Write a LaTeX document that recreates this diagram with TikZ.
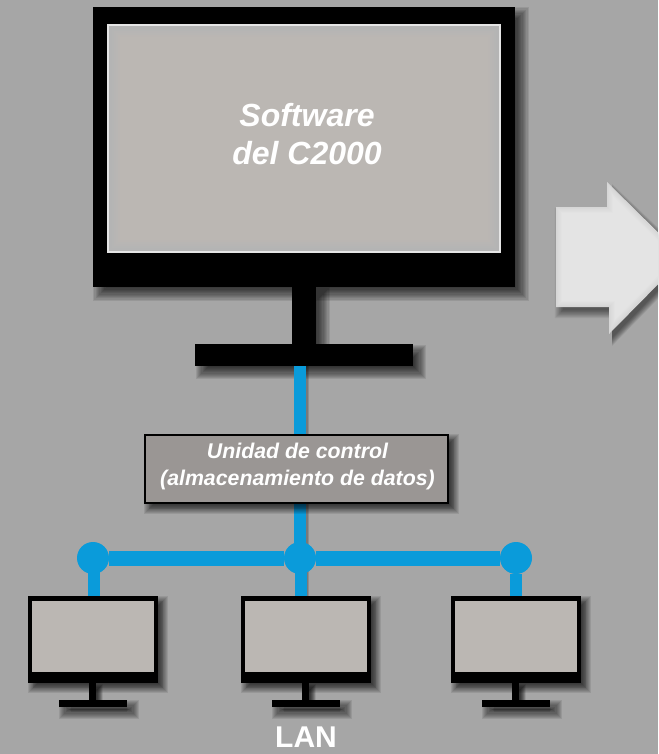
\documentclass[tikz,border=0pt]{standalone}
\usepackage{fontspec}
\setmainfont{Liberation Sans}
\definecolor{bg}{HTML}{A6A6A6}
\definecolor{rim}{HTML}{B4B4B4}
\definecolor{scr}{HTML}{BBB7B3}
\definecolor{ctl}{HTML}{9A9694}
\definecolor{lan}{HTML}{0A9BDA}
\definecolor{arrowface}{HTML}{D6D6D6}
\definecolor{arrowedge}{HTML}{E4E4E4}
% soft shadow: x1,y1,x2,y2 of the casting box, offset, blur
\newcommand{\softshade}[6]{%
  \foreach \k in {0,1,...,11}{%
    \pgfmathsetmacro{\gr}{#6*(1-\k/5.5)}%
    \fill[black,opacity=0.085] ({#1+#5-\gr},{#2+#5-\gr}) rectangle ({#3+#5+\gr},{#4+#5+\gr});
  }}
\tikzset{
  x=1pt,y=-1pt,
  blk/.style={fill=black,draw=none,inner sep=0,outer sep=0,anchor=north west},
  bigscreen/.style={fill=rim,draw=white!90!black,line width=1.2pt,inner sep=0,outer sep=0,anchor=north west},
  smallscreen/.style={fill=scr,draw=none,inner sep=0,outer sep=0,anchor=north west},
  ctlbox/.style={fill=ctl,draw=black,line width=2pt,inner sep=0,outer sep=0,anchor=north west,
    minimum width=303pt,minimum height=68pt},
  lanwire/.style={draw=lan,line width=12pt},
  wireshade/.style={draw=black,opacity=0.14,line width=1.5pt},
  landot/.style={circle,fill=lan,draw=none,minimum size=32pt,inner sep=0,outer sep=0},
  lbl/.style={text=white,font=\bfseries\itshape,align=center,inner sep=0},
}
\newcommand{\pc}[2]{% name, left x
  \pgfmathsetmacro{\xa}{#2}\pgfmathsetmacro{\xb}{#2+130}
  \softshade{\xa}{596}{\xb}{683}{5}{5}
  \softshade{#2+61}{683}{#2+68}{700}{4}{3}
  \softshade{#2+31}{700}{#2+99}{707}{6}{6}
  \node[blk,minimum width=130pt,minimum height=87pt] (#1) at (#2,596) {};
  \node[smallscreen,minimum width=122pt,minimum height=71pt] (#1scr) at (#2+4,601) {};
  \node[blk,minimum width=7pt,minimum height=18pt] (#1neck) at (#2+61,683) {};
  \node[blk,minimum width=68pt,minimum height=7pt] (#1base) at (#2+31,700) {};
}
\begin{document}
\begin{tikzpicture}
\useasboundingbox (0,0) rectangle (658,754);
\fill[bg] (0,0) rectangle (658,754);
% arrow
\begin{scope}
\clip (0,0) rectangle (658,754);
\foreach \d in {0,1,...,9}{
  \pgfmathsetmacro{\g}{\d*0.9-4}
  \fill[black,opacity=0.06] ({556+3-\g},{207+5-\g}) -- (612,{207+5-\g}) -- (612,{188-\g}) -- ({690+\g},262) -- ({612},{342+\g}) -- (612,{307+7+\g}) -- ({556+3-\g},{307+7+\g}) -- cycle;
}
\foreach \i in {0,1,...,6}{
  \pgfmathsetmacro{\m}{100-\i*100/6}
  \fill[arrowface!\m!arrowedge] ({556+\i},{207+\i}) -- ({607+\i},{207+\i}) -- ({607+\i},{182+2.4*\i}) -- ({684-1.4*\i},258) -- ({609+\i},{334-2.4*\i}) -- ({609+\i},{307-\i}) -- ({556+\i},{307-\i}) -- cycle;
}
\end{scope}
% big monitor shadows
\softshade{93}{7}{515}{287}{7}{7}
\softshade{292}{287}{316}{344}{7}{7}
\softshade{195}{344}{413}{366}{7}{6}
% big monitor
\node[blk,minimum width=422pt,minimum height=280pt] (mon) at (93,7) {};
\node[bigscreen,minimum width=392pt,minimum height=227pt] (monscr) at (108,25) {};
\foreach \i in {0,1,...,5}{
  \pgfmathsetmacro{\m}{\i*20}
  \fill[scr!\m!rim] ({110+\i*2},{27+\i*2}) rectangle ({498-\i*2},{250-\i*2});
}
\node[blk,minimum width=24pt,minimum height=57pt] (monneck) at (292,287) {};
\node[blk,minimum width=218pt,minimum height=22pt] (monbase) at (195,344) {};
\node[lbl,font=\bfseries\itshape\fontsize{32}{38}\selectfont] (soft) at (307,134) {Software\\del C2000};
% wires
\draw[wireshade] (306.8,366) -- (306.8,434);
\draw[wireshade,line width=3pt] (307.5,366) -- (307.5,434);
\draw[wireshade,line width=3pt] (307.5,504) -- (307.5,596);
\draw[wireshade] (306.8,504) -- (306.8,596);
\draw[lanwire] (300,366) -- (300,434);
\draw[lanwire] (300,504) -- (300,558);
\node[landot] (dotL) at (93,558) {};
\node[landot] (dotM) at (300,558) {};
\node[landot] (dotR) at (516,558) {};
\draw[draw=lan,line width=15pt] (dotL) -- (dotM);
\draw[draw=lan,line width=15pt] (dotM) -- (dotR);
% control box
\softshade{144}{434}{449}{504}{5}{5}
\node[ctlbox] (ctl) at (145,435) {};
\node[lbl,font=\bfseries\itshape\fontsize{21.3}{27}\selectfont] (ctltxt) at (297.5,466) {Unidad de control\\(almacenamiento de datos)};
% small monitors
\pc{pcA}{28}
\pc{pcB}{241}
\pc{pcC}{451}
\draw[lanwire] ([xshift=1pt]dotL.center) -- (pcA.north -| 94,0);
\draw[lanwire] (301,558) -- (pcB.north -| 301,0);
\draw[lanwire] (dotR) -- (pcC.north -| dotR);
\node[lbl,font=\bfseries\fontsize{30}{30}\selectfont] (lantxt) at (306,737) {LAN};
\end{tikzpicture}
\end{document}
